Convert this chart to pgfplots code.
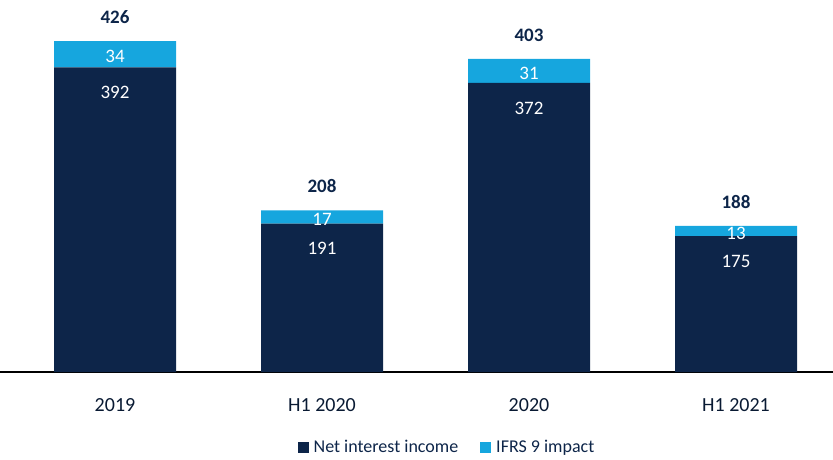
\documentclass[border=0pt]{standalone}
\usepackage{pgfplots}
\pgfplotsset{compat=1.18}
\usepackage{fontspec}
\setmainfont{Carlito}
\definecolor{navy}{HTML}{0D2549}
\definecolor{lblue}{HTML}{16A6DE}
\begin{document}
\begin{tikzpicture}
\useasboundingbox (0,-87pt) rectangle (833pt,372pt);
\begin{axis}[
  scale only axis,
  width=833pt, height=372pt,
  xmin=-0.5556, xmax=3.4686,
  ymin=0, ymax=478.8,
  ybar stacked,
  bar width=122pt,
  axis x line*=bottom,
  axis y line=none,
  x axis line style={black, line width=1.5pt, -},
  xtick={0,1,2,3},
  xticklabels={2019,H1 2020,2020,H1 2021},
  major tick length=0pt,
  xticklabel style={anchor=center, yshift=-33pt, font=\fontsize{20}{23}\selectfont, text=navy!70!black},
  /pgf/number format/assume math mode=true,
  legend columns=2,
  legend style={draw=none, fill=none, at={(0.5366,-0.2016)}, anchor=center,
    font=\fontsize{18}{21}\selectfont, text=navy,
    /tikz/every even column/.append style={column sep=20pt}},
  legend image code/.code={\fill[#1] (0pt,-5.5pt) rectangle (11pt,5.5pt); \path (14pt,0pt);},
]
\addplot[fill=navy, draw=none,
  visualization depends on={rawy \as \myrawy},
  nodes near coords, point meta=explicit symbolic,
  every node near coord/.append style={anchor=center, yshift={(0.3885*\myrawy-25)*1pt}, text=white, font=\fontsize{19}{22}\selectfont}]
  coordinates {(0,392)[392] (1,191)[191] (2,372)[372] (3,175)[175]};
\addlegendentry{Net interest income}
\addplot[fill=lblue, draw=none,
  nodes near coords, point meta=explicit symbolic,
  every node near coord/.append style={anchor=center, yshift=-2pt, text=white, font=\fontsize{19}{22}\selectfont}]
  coordinates {(0,34)[34] (1,17)[17] (2,31)[31] (3,13)[13]};
\addlegendentry{IFRS 9 impact}
\addplot[draw=none, fill=none, forget plot,
  nodes near coords, point meta=explicit symbolic,
  every node near coord/.append style={anchor=center, yshift=24pt, text=navy, font=\bfseries\fontsize{19}{22}\selectfont}]
  coordinates {(0,0.01)[426] (1,0.01)[208] (2,0.01)[403] (3,0.01)[188]};
\end{axis}
\end{tikzpicture}
\end{document}
